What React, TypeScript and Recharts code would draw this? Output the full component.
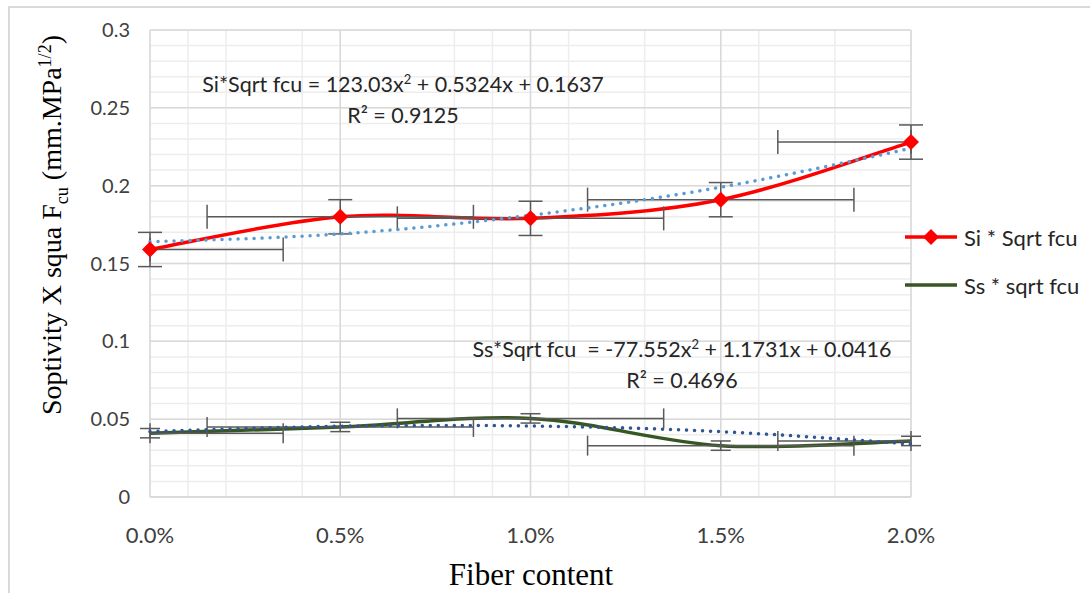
import React from 'react';
import {
  CartesianGrid,
  ComposedChart,
  ErrorBar,
  Line,
  Scatter,
  XAxis,
  YAxis,
} from 'recharts';

// fibre content in %
const fiberContent = [0, 0.5, 1.0, 1.5, 2.0];
const siValues = [0.159, 0.18, 0.179, 0.191, 0.228];
const ssValues = [0.041, 0.045, 0.0505, 0.033, 0.036];
// polynomial trendlines as drawn (dotted)
const siTrend = [0.164, 0.169, 0.181, 0.199, 0.224];
const ssTrend = [0.042, 0.0455, 0.0456, 0.042, 0.034];
// error bars
const siErrY = [0.011, 0.011, 0.011, 0.011, 0.011];
const ssErrY = [0.003, 0.003, 0.003, 0.003, 0.003];
const errXLow = [0, 0.35, 0.35, 0.35, 0.35];
const errXHigh = [0.35, 0.35, 0.35, 0.35, 0];

const xTicks = [0, 0.5, 1.0, 1.5, 2.0];
const yTicks = [0, 0.05, 0.1, 0.15, 0.2, 0.25, 0.3];
const xMinor = Array.from({ length: 21 }, (_, i) => i * 0.1);
const yMinor = Array.from({ length: 31 }, (_, i) => i * 0.01);

const legendItems = [
  { label: 'Si * Sqrt fcu', color: '#FF0000', marker: true },
  { label: 'Ss * sqrt fcu', color: '#375623', marker: false },
];

const rows = fiberContent.map((x, i) => ({
  x,
  si: siValues[i],
  ss: ssValues[i],
  siTrend: siTrend[i],
  ssTrend: ssTrend[i],
  siErrY: siErrY[i],
  ssErrY: ssErrY[i],
  errX: [errXLow[i], errXHigh[i]],
}));

// Excel-style smoothed line (Catmull-Rom through the points)
function excelSmooth(context: any) {
  let pts: number[][] = [];
  return {
    areaStart() {},
    areaEnd() {},
    lineStart() {
      pts = [];
    },
    point(x: number, y: number) {
      pts.push([+x, +y]);
    },
    lineEnd() {
      if (!pts.length) return;
      context.moveTo(pts[0][0], pts[0][1]);
      for (let i = 0; i < pts.length - 1; i++) {
        const p0 = pts[i - 1] || pts[i];
        const p1 = pts[i];
        const p2 = pts[i + 1];
        const p3 = pts[i + 2] || p2;
        context.bezierCurveTo(
          p1[0] + (p2[0] - p0[0]) / 6,
          p1[1] + (p2[1] - p0[1]) / 6,
          p2[0] - (p3[0] - p1[0]) / 6,
          p2[1] - (p3[1] - p1[1]) / 6,
          p2[0],
          p2[1],
        );
      }
    },
  };
}

const Diamond = (props: any) => {
  const { cx, cy } = props;
  if (cx == null || cy == null) return <g />;
  const r = 8;
  return (
    <polygon
      points={`${cx},${cy - r} ${cx + r},${cy} ${cx},${cy + r} ${cx - r},${cy}`}
      fill="#FF0000"
    />
  );
};

const NoShape = () => <g />;

const eqStyle: React.CSSProperties = {
  position: 'absolute',
  fontFamily: 'Lato',
  fontSize: 21.5,
  color: '#262626',
  whiteSpace: 'nowrap',
  textAlign: 'center',
  transform: 'translateX(-50%)',
  lineHeight: '31px',
};

const supStyle: React.CSSProperties = { fontSize: 13, lineHeight: 0 };

export default function App() {
  return (
    <>
      <style>{'body{margin:0;overflow:hidden;}'}</style>
      <div
        style={{
          position: 'absolute',
          left: 8,
          top: 6,
          width: 1082,
          height: 587,
          borderTop: '2px solid #d9d9d9',
          borderLeft: '2px solid #d9d9d9',
          overflow: 'hidden',
          background: '#fff',
        }}
      >
        <ComposedChart
          width={1072}
          height={575}
          data={rows}
          margin={{ top: 22, right: 171, bottom: 46, left: 60 }}
        >
          <XAxis
            xAxisId="minor"
            type="number"
            dataKey="x"
            domain={[0, 2]}
            allowDataOverflow
            ticks={xMinor}
            hide
          />
          <YAxis
            yAxisId="minor"
            type="number"
            dataKey="si"
            domain={[0, 0.3]}
            allowDataOverflow
            ticks={yMinor}
            interval={0}
            hide
          />
          <CartesianGrid xAxisId="minor" yAxisId="minor" stroke="#EDEDED" strokeWidth={1.5} />
          <CartesianGrid stroke="#D9D9D9" strokeWidth={1.5} />
          <XAxis
            dataKey="x"
            type="number"
            domain={[0, 2]}
            ticks={xTicks}
            tickFormatter={(v: number) => `${v.toFixed(1)}%`}
            tickLine={false}
            tickSize={0}
            tickMargin={30}
            height={40}
            stroke="#D9D9D9"
            strokeWidth={1.5}
            tick={{ fontFamily: 'Lato', fontSize: 22, fill: '#404040' }}
          />
          <YAxis
            type="number"
            domain={[0, 0.3]}
            ticks={yTicks}
            tickFormatter={(v: number) => String(v)}
            tickLine={false}
            tickSize={0}
            tickMargin={20}
            width={80}
            axisLine={false}
            tick={{ fontFamily: 'Lato', fontSize: 20, fill: '#404040' }}
          />
          <Line
            dataKey="si"
            type={excelSmooth as any}
            stroke="#FF0000"
            strokeWidth={3.5}
            dot={false}
            activeDot={false}
            legendType="none"
            isAnimationActive={false}
          />
          <Line
            dataKey="ss"
            type={excelSmooth as any}
            stroke="#375623"
            strokeWidth={3.5}
            dot={false}
            activeDot={false}
            legendType="none"
            isAnimationActive={false}
          />
          <Scatter dataKey="si" shape={Diamond} legendType="none" isAnimationActive={false}>
            <ErrorBar dataKey="siErrY" direction="y" width={12} stroke="#595959" strokeWidth={1.5} />
            <ErrorBar dataKey="errX" direction="x" width={12} stroke="#595959" strokeWidth={1.5} />
          </Scatter>
          <Scatter dataKey="ss" shape={NoShape} legendType="none" isAnimationActive={false}>
            <ErrorBar dataKey="ssErrY" direction="y" width={10} stroke="#595959" strokeWidth={1.5} />
            <ErrorBar dataKey="errX" direction="x" width={10} stroke="#595959" strokeWidth={1.5} />
          </Scatter>
          <Line
            dataKey="siTrend"
            type="natural"
            stroke="#5B9BD5"
            strokeWidth={3.5}
            strokeDasharray="0.01 8"
            strokeLinecap="round"
            dot={false}
            activeDot={false}
            legendType="none"
            isAnimationActive={false}
          />
          <Line
            dataKey="ssTrend"
            type="natural"
            stroke="#2F5597"
            strokeWidth={3.5}
            strokeDasharray="0.01 8"
            strokeLinecap="round"
            dot={false}
            activeDot={false}
            legendType="none"
            isAnimationActive={false}
          />
        </ComposedChart>

        <div
          style={{
            position: 'absolute',
            left: 893,
            top: 205,
            fontFamily: 'Lato',
            fontSize: 22,
            color: '#262626',
          }}
        >
          {legendItems.map((item) => (
            <div key={item.label} style={{ display: 'flex', alignItems: 'center', height: 48 }}>
              <svg width={58} height={20} style={{ marginRight: 3 }}>
                <line x1={2} y1={10} x2={54} y2={10} stroke={item.color} strokeWidth={3.5} />
                {item.marker && <polygon points="28,2 36,10 28,18 20,10" fill={item.color} />}
              </svg>
              <span>{item.label}</span>
            </div>
          ))}
        </div>

        <div style={{ ...eqStyle, left: 393, top: 61 }}>
          Si*Sqrt fcu = 123.03x<sup style={supStyle}>2</sup> + 0.5324x + 0.1637
          <br />
          R² = 0.9125
        </div>
        <div style={{ ...eqStyle, left: 672, top: 326 }}>
          Ss*Sqrt fcu&nbsp; = -77.552x<sup style={supStyle}>2</sup> + 1.1731x + 0.0416
          <br />
          R² = 0.4696
        </div>

        <div
          style={{
            position: 'absolute',
            left: 44,
            top: 217,
            transform: 'translate(-50%, -50%) rotate(-90deg)',
            fontFamily: '"Liberation Serif"',
            fontSize: 28,
            color: '#000',
            whiteSpace: 'nowrap',
          }}
        >
          Soptivity X squa F<sub style={{ fontSize: 18 }}>cu</sub> (mm.MPa
          <sup style={{ fontSize: 18 }}>1/2</sup>)
        </div>
        <div
          style={{
            position: 'absolute',
            left: 521,
            top: 551,
            transform: 'translateX(-50%)',
            fontFamily: '"Liberation Serif"',
            fontSize: 31,
            lineHeight: 1,
            color: '#000',
            whiteSpace: 'nowrap',
          }}
        >
          Fiber content
        </div>
      </div>
    </>
  );
}
